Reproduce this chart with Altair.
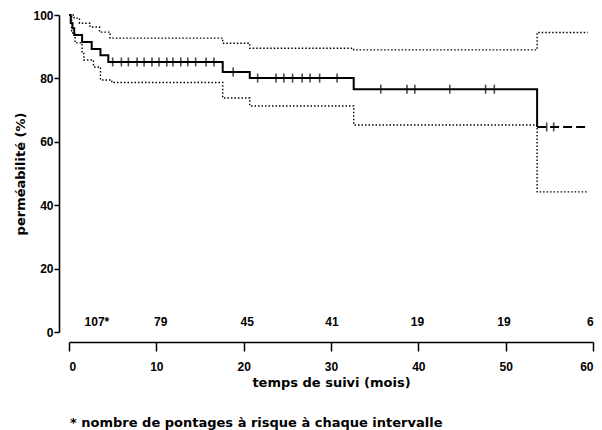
import altair as alt
import pandas as pd
import numpy as np

FONT = "Liberation Sans"
TFONT = "DejaVu Sans"

# Kaplan-Meier estimate (months, % patency)
km_t = [0, 0.2, 0.4, 0.6, 1.5, 2.6, 3.6, 4.5, 17.6, 20.7, 32.6, 53.6, 59.4]
km_s = [100, 97.5, 95.8, 93.7, 91.5, 89.3, 87.3, 85.2, 82.0, 80.1, 76.6, 64.7, 64.7]

# upper confidence limit
up_t = [0, 0.6, 1.2, 2.4, 3.5, 4.7, 17.6, 20.7, 32.6, 53.6, 59.4]
up_s = [100, 99.0, 97.4, 96.2, 94.6, 92.7, 91.1, 89.5, 89.0, 94.5, 94.5]

# lower confidence limit
lo_t = [0, 0.3, 0.7, 1.5, 1.7, 2.8, 3.6, 4.9, 17.6, 20.7, 32.6, 53.6, 59.4]
lo_s = [100, 94.3, 91.2, 88.3, 85.8, 83.6, 79.5, 78.7, 73.8, 71.3, 65.3, 44.2, 44.2]

# censored observations (months)
cens_t = [5.0, 6.0, 6.8, 7.8, 8.6, 9.5, 10.3, 11.2, 11.9, 12.8, 13.6, 14.5, 15.7, 16.6,
          18.8, 21.6, 23.7, 24.6, 25.6, 26.7, 27.6, 28.7, 30.7,
          35.7, 38.7, 39.6, 43.6, 47.7, 48.7, 54.7, 55.5]

# number at risk
risk_t = [3.2, 10.5, 20.4, 30.1, 39.9, 49.8, 59.7]
risk_lbl = ["107*", "79", "45", "41", "19", "19", "6"]
risk_y = 3.2

x_ticks = [0, 10, 20, 30, 40, 50, 60]
y_ticks = [0, 20, 40, 60, 80, 100]

# solid part of the estimate, and the dashed tail after the last drop
n_solid = len(km_t) - 1
km_df = pd.DataFrame({"t": km_t[:n_solid], "s": km_s[:n_solid]})
tail_df = pd.DataFrame({"t": km_t[n_solid - 1:], "s": km_s[n_solid - 1:]})
ci_df = pd.concat([
    pd.DataFrame({"t": up_t, "s": up_s, "band": "upper"}),
    pd.DataFrame({"t": lo_t, "s": lo_s, "band": "lower"}),
])
idx = np.searchsorted(np.array(km_t), np.array(cens_t), side="right") - 1
cens_df = pd.DataFrame({"t": cens_t, "s": [km_s[i] for i in idx]})
risk_df = pd.DataFrame({"t": risk_t, "lbl": risk_lbl, "y": [risk_y] * len(risk_t)})

xscale = alt.Scale(domain=[0, 60], nice=False, zero=False)
yscale = alt.Scale(domain=[0, 100], nice=False)

xaxis = alt.Axis(values=x_ticks, title="temps de suivi (mois)", offset=10, grid=False,
                 tickSize=9, labelPadding=10, titlePadding=4, format="d")
yaxis = alt.Axis(values=y_ticks, title="perméabilité (%)", offset=10, grid=False,
                 tickSize=5, labelPadding=1, titlePadding=5, format="d")

ci = alt.Chart(ci_df).mark_line(interpolate="step-after", color="black", strokeWidth=1.4,
                                strokeDash=[1.5, 2]).encode(
    x=alt.X("t:Q", scale=xscale, axis=xaxis),
    y=alt.Y("s:Q", scale=yscale, axis=yaxis),
    detail="band:N",
)

km = alt.Chart(km_df).mark_line(interpolate="step-after", color="black", strokeWidth=2).encode(
    x=alt.X("t:Q", scale=xscale),
    y=alt.Y("s:Q", scale=yscale),
)

tail = alt.Chart(tail_df).mark_line(color="black", strokeWidth=2, strokeDash=[9, 4]).encode(
    x=alt.X("t:Q", scale=xscale),
    y=alt.Y("s:Q", scale=yscale),
)

cens = alt.Chart(cens_df).mark_tick(orient="vertical", size=9, thickness=1.6, color="black").encode(
    x=alt.X("t:Q", scale=xscale),
    y=alt.Y("s:Q", scale=yscale),
)

risk = alt.Chart(risk_df).mark_text(font=FONT, fontSize=12, fontWeight="bold", color="black").encode(
    x=alt.X("t:Q", scale=xscale),
    y=alt.Y("y:Q", scale=yscale),
    text="lbl:N",
)

chart = alt.layer(ci, km, tail, cens, risk).properties(
    width=524,
    height=317,
    background="white",
    autosize=alt.AutoSizeParams(type="none"),
    padding={"left": 69, "top": 15, "right": 9, "bottom": 98},
    title=alt.TitleParams(
        text="* nombre de pontages à risque à chaque intervalle",
        orient="bottom", anchor="start", frame="group", offset=28, dx=1,
        font=TFONT, fontSize=13, fontWeight="bold", color="black",
    ),
).configure_view(stroke=None).configure_axis(
    domainColor="black", domainWidth=1.6, tickColor="black", tickWidth=1.5,
    labelFont=FONT, labelFontSize=12, labelFontWeight="bold", labelColor="black",
    titleFont=TFONT, titleFontSize=13, titleFontWeight="bold", titleColor="black",
)

chart.save("out.html", embed_options={"renderer": "svg", "actions": False})
